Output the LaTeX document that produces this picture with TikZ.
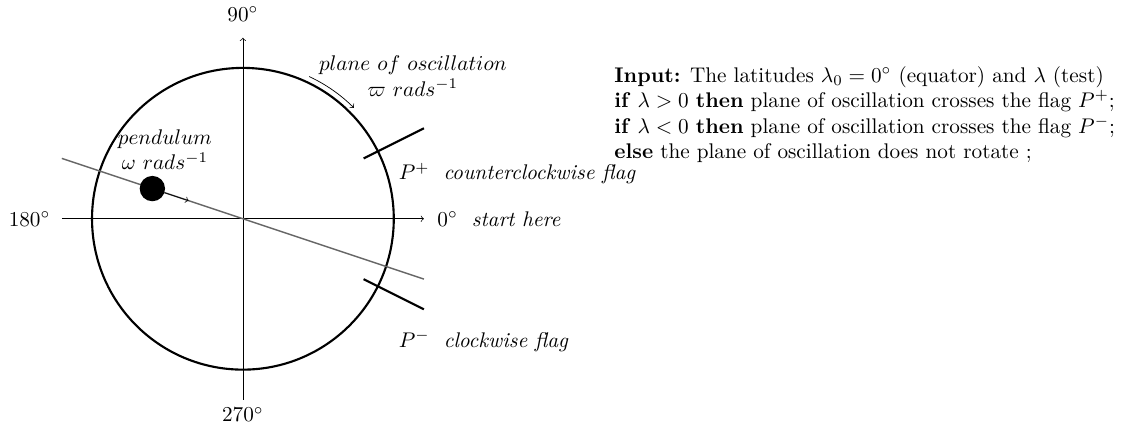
\documentclass[tikz,border=0pt]{standalone}
\usepackage{amsmath}
\usepackage{amssymb}
\usepackage{tikz}
\usetikzlibrary{positioning}
\usetikzlibrary{calc}

\begin{document}
\begin{tikzpicture}[every node/.style={scale=1.2}, axis/.style={->}, flag/.style={very thick}, plane/.style={thick, black!60}]
            \useasboundingbox (-4.83,-4.16) rectangle (17.5,4.35);
            % axes
            \coordinate (o) at (0,0);
            \coordinate (xl) at (-3.6,0);
            \coordinate (xr) at (3.6,0);
            \coordinate (yb) at (0,-3.6);
            \coordinate (yt) at (0,3.6);
            \draw[axis] (xl) -- (xr);
            \draw[axis] (yb) -- (yt);
            \node[left] (w) at (-3.68,0) {$180^\circ$};
            \node[right] (e) at (3.72,0) {$0^\circ$ \ \textit{start here}};
            \node[above] (n) at (0,3.78) {$90^\circ$};
            \node[below] (s) at (0,-3.6) {$270^\circ$};

            \draw[very thick] (o) circle (3);

            % plane of oscillation
            \coordinate (pl) at (-3.6,1.2);
            \coordinate (pr) at (3.6,-1.2);
            \draw[plane] (pl) -- (pr);
            \node[circle, fill, inner sep=0, scale=1, minimum size=0.42cm] (bob) at (-1.8,0.6) {};
            \coordinate (tip) at (-1.08,0.36);
            \draw[->] (bob) -- (tip);
            \node[align=center] (pend) at (-1.55,1.37) {$pendulum$\\$\omega\ rads^{-1}$};

            % flags
            \coordinate (fp1) at (2.4,1.2);
            \coordinate (fp2) at (3.6,1.8);
            \coordinate (fm1) at (2.4,-1.2);
            \coordinate (fm2) at (3.6,-1.8);
            \draw[flag] (fp1) -- (fp2);
            \draw[flag] (fm1) -- (fm2);
            \node[right] (lp) at (2.95,0.9) {$P^{+}$ \ \textit{counterclockwise flag}};
            \node[right] (lm) at (2.95,-2.43) {$P^{-}$ \ \textit{clockwise flag}};

            % rotation
            \draw[->] (65:3.12) arc (65:45:3.12);
            \node[align=center] (rot) at (3.38,2.84) {$plane\ of\ oscillation$\\$\varpi\ rads^{-1}$};

            % algorithm
            \node[anchor=north west, inner sep=0, align=left] (alg) at (7.38,3.04) {%
              \textbf{Input:} The latitudes $\lambda_0 = 0^\circ$ (equator) and $\lambda$ (test)\\
              \textbf{if} $\lambda > 0$ \textbf{then} plane of oscillation crosses the flag $P^{+}$;\\
              \textbf{if} $\lambda < 0$ \textbf{then} plane of oscillation crosses the flag $P^{-}$;\\
              \textbf{else} the plane of oscillation does not rotate ;};
\end{tikzpicture}
\end{document}
